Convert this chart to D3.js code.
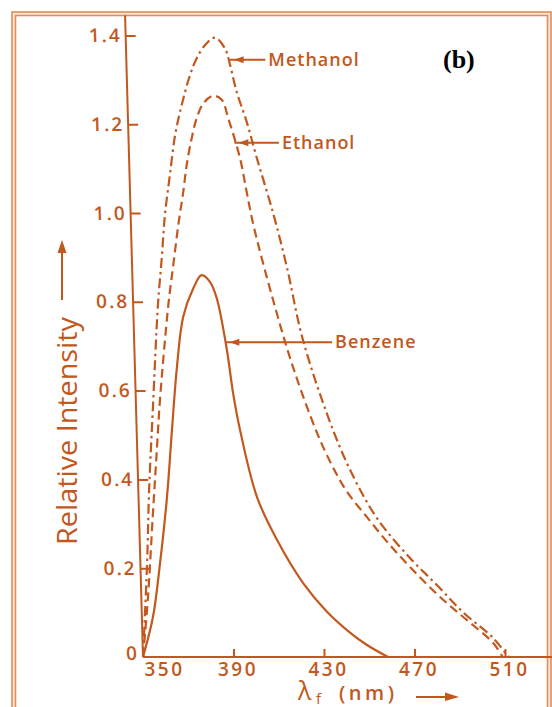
<!DOCTYPE html>
<html>
<head>
<meta charset="utf-8">
<script src="https://cdn.jsdelivr.net/npm/d3@7/dist/d3.min.js"></script>
<style>
  html, body { margin: 0; padding: 0; background: #fff; }
  svg { display: block; }
</style>
</head>
<body>
<div id="chart"></div>
<script>
// emission spectra: wavelength (nm) / relative intensity
const methanolNm = [350, 351.8, 352.7, 354.4, 356.6, 358.3, 359.7, 361.9, 364.2, 367.1, 370.8, 373.7, 377.4, 381.8, 386.2, 388.5, 391.4, 395.8, 400.3, 407.5, 413.6, 420.7, 434, 443.7, 453.9, 468, 479.9, 491.4, 504.7, 511.5];
const methanolI  = [0, 0.21, 0.376, 0.563, 0.793, 0.899, 0.996, 1.086, 1.176, 1.243, 1.311, 1.348, 1.378, 1.395, 1.371, 1.333, 1.273, 1.206, 1.124, 1.0, 0.878, 0.714, 0.511, 0.399, 0.309, 0.223, 0.162, 0.101, 0.043, 0];

const ethanolNm = [350, 352.2, 354.4, 356.2, 357.5, 361.2, 363.4, 365.6, 367.8, 369.3, 371.5, 373.7, 376.7, 381.1, 384.8, 387.7, 392.9, 395.8, 398.8, 407.5, 416.3, 426.9, 433.5, 440.2, 449, 458.3, 469.3, 481.3, 493.2, 504.7, 509];
const ethanolI  = [0, 0.135, 0.324, 0.473, 0.579, 0.793, 0.883, 0.973, 1.048, 1.108, 1.168, 1.213, 1.247, 1.264, 1.255, 1.213, 1.123, 1.048, 0.973, 0.804, 0.653, 0.505, 0.432, 0.372, 0.315, 0.257, 0.196, 0.135, 0.083, 0.032, 0];

const benzeneNm = [350, 354.4, 357.5, 360.6, 362.8, 365, 367.8, 372.2, 375.9, 379.6, 382.6, 387.1, 389.8, 392.9, 400.4, 409.2, 420.7, 431.3, 441.5, 449, 458.3];
const benzeneI  = [0, 0.09, 0.21, 0.36, 0.511, 0.653, 0.767, 0.83, 0.86, 0.845, 0.808, 0.691, 0.595, 0.511, 0.36, 0.264, 0.167, 0.102, 0.055, 0.027, 0];

const xTicks = [350, 390, 430, 470, 510];
const xTickLabels = ["350", "390", "430", "470", "510"];
const yTicks = [0, 0.2, 0.4, 0.6, 0.8, 1.0, 1.2, 1.4];
const yTickLabels = ["0", "0.2", "0.4", "0.6", "0.8", "1.0", "1.2", "1.4"];

// where each label's arrow touches its curve, and where the label starts
const labelNames = ["Methanol", "Ethanol", "Benzene"];
const labelArrowNm = [388.3, 390.4, 386.4];
const labelArrowI = [1.345, 1.158, 0.709];
const labelStartNm = [405.4, 411.4, 434.9];

const ink = "#c2581d";
const frameInk = "#e08d57";
const width = 552, height = 707;
const font = "'Open Sans', 'DejaVu Sans', sans-serif";

const x = d3.scaleLinear().domain([350, 510]).range([143, 505]);
const y = d3.scaleLinear().domain([0, 1.4]).range([657, 35.4]);

const svg = d3.select("#chart").append("svg")
    .attr("width", width)
    .attr("height", height);

// double frame of the scan
svg.append("rect")
    .attr("x", 12).attr("y", 12).attr("width", 539).attr("height", 720)
    .attr("fill", "#fbe8da").attr("stroke", frameInk).attr("stroke-width", 1.6);
svg.append("rect")
    .attr("x", 15.5).attr("y", 15.5).attr("width", 532).attr("height", 720)
    .attr("fill", "#fff").attr("stroke", frameInk).attr("stroke-width", 1.6);

// x axis, ticks pointing up
const xAxis = svg.append("g")
    .attr("transform", `translate(0,${y(0)})`)
    .call(d3.axisBottom(x)
        .tickValues(xTicks)
        .tickFormat((d, i) => xTickLabels[i])
        .tickSize(-8)
        .tickSizeOuter(0)
        .tickPadding(5));
xAxis.select(".domain").remove();
xAxis.append("line")
    .attr("x1", x(350)).attr("x2", width)
    .attr("stroke", ink).attr("stroke-width", 2);
xAxis.selectAll(".tick line").attr("stroke", ink).attr("stroke-width", 2)
    .attr("display", d => d === 350 ? "none" : null);
xAxis.selectAll(".tick text")
    .attr("fill", ink)
    .attr("font-family", font)
    .attr("font-weight", 600)
    .attr("font-size", 19)
    .attr("letter-spacing", 2.5)
    .attr("dx", d => d === 350 ? 21 : 4);

// y axis: the hand-drawn axis leans a little, so skew it about the origin
const lean = 1.6;
const yAxis = svg.append("g")
    .attr("transform", `translate(${x(350)},${y(0)}) skewX(${lean}) translate(0,${-y(0)})`)
    .call(d3.axisLeft(y)
        .tickValues(yTicks)
        .tickFormat((d, i) => yTickLabels[i])
        .tickSize(-10)
        .tickSizeOuter(0)
        .tickPadding(4));
yAxis.select(".domain").remove();
yAxis.append("line")
    .attr("y1", y(0)).attr("y2", 15.5)
    .attr("stroke", ink).attr("stroke-width", 2);
yAxis.selectAll(".tick line").attr("stroke", ink).attr("stroke-width", 2)
    .attr("display", d => d === 0 ? "none" : null);
yAxis.selectAll(".tick text")
    .attr("fill", ink)
    .attr("font-family", font)
    .attr("font-weight", 600)
    .attr("font-size", 19)
    .attr("letter-spacing", 2)
    .attr("dy", d => d === 0 ? "0.12em" : "0.32em");

// curves
const line = d3.line()
    .x(d => x(d[0]))
    .y(d => y(d[1]))
    .curve(d3.curveCatmullRom.alpha(0.5));

const series = [
    { nm: methanolNm, val: methanolI, dash: "10,4,2.5,4" },
    { nm: ethanolNm, val: ethanolI, dash: "9,5" },
    { nm: benzeneNm, val: benzeneI, dash: null }
];

svg.append("g")
    .attr("fill", "none")
    .attr("stroke", ink)
    .attr("stroke-width", 2.2)
    .selectAll("path")
    .data(series)
    .join("path")
    .attr("stroke-dasharray", d => d.dash)
    .attr("d", d => line(d.nm.map((v, i) => [v, d.val[i]])));

// labels with arrows pointing at their curve
const notes = svg.append("g");
labelNames.forEach((name, i) => {
    const ax = x(labelArrowNm[i]);
    const ay = y(labelArrowI[i]);
    const lx = x(labelStartNm[i]);
    notes.append("line")
        .attr("x1", ax).attr("x2", lx - 3)
        .attr("y1", ay).attr("y2", ay)
        .attr("stroke", ink).attr("stroke-width", 2);
    notes.append("path")
        .attr("d", `M${ax + 4},${ay} L${ax + 14},${ay - 3.5} L${ax + 14},${ay + 3.5} Z`)
        .attr("fill", ink);
    notes.append("text")
        .attr("x", lx)
        .attr("y", ay)
        .attr("dy", "0.34em")
        .attr("fill", ink)
        .attr("font-family", font)
        .attr("font-weight", 600)
        .attr("font-size", 18)
        .attr("letter-spacing", 1)
        .text(name);
});

// axis titles
svg.append("text")
    .attr("transform", `translate(77,431) rotate(-90)`)
    .attr("text-anchor", "middle")
    .attr("fill", ink)
    .attr("font-family", font)
    .attr("font-size", 28)
    .attr("textLength", 228)
    .attr("lengthAdjust", "spacingAndGlyphs")
    .text("Relative Intensity");
svg.append("line")
    .attr("x1", 62).attr("x2", 62).attr("y1", 300).attr("y2", 250)
    .attr("stroke", ink).attr("stroke-width", 2);
svg.append("path")
    .attr("d", "M62,240 L57.5,253 L66.5,253 Z")
    .attr("fill", ink);

const xTitle = svg.append("g")
    .attr("fill", ink)
    .attr("font-family", font);
xTitle.append("text").attr("x", 298).attr("y", 700).attr("font-size", 25).text("λ");
xTitle.append("text").attr("x", 316).attr("y", 704).attr("font-size", 15).text("f");
xTitle.append("text").attr("x", 339).attr("y", 700).attr("font-size", 20)
    .attr("font-weight", 600).attr("letter-spacing", 3.5).text("(nm)");
svg.append("line")
    .attr("x1", 416).attr("x2", 448).attr("y1", 697).attr("y2", 697)
    .attr("stroke", ink).attr("stroke-width", 2);
svg.append("path")
    .attr("d", "M459,697 L445,692.5 L445,701 Z")
    .attr("fill", ink);

// panel letter
svg.append("text")
    .attr("x", 443)
    .attr("y", 68)
    .attr("fill", "#000")
    .attr("font-family", "'Liberation Serif', 'Times New Roman', serif")
    .attr("font-weight", "bold")
    .attr("font-size", 26)
    .text("(b)");
</script>
</body>
</html>
